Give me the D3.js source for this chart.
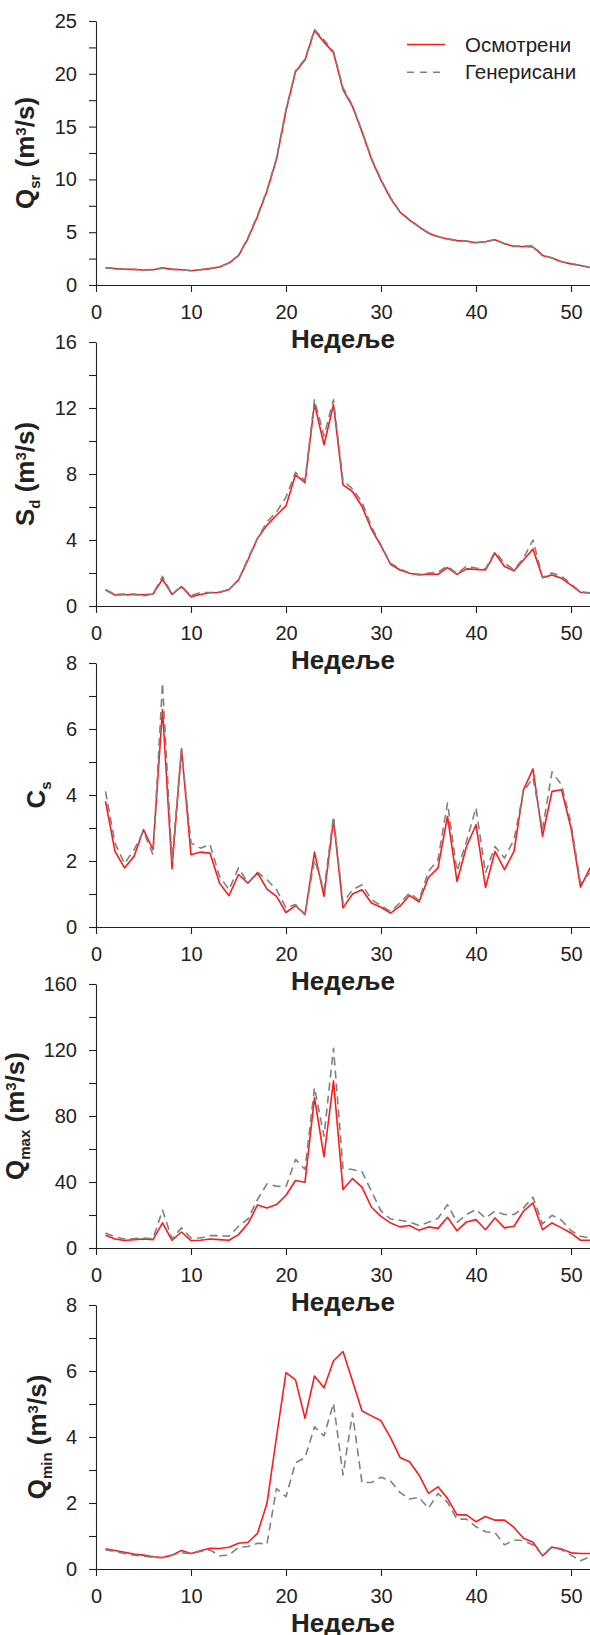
<!DOCTYPE html>
<html><head><meta charset="utf-8">
<script src="https://cdn.jsdelivr.net/npm/d3@7"></script>
<style>
body{margin:0;background:#fff}
svg{display:block}
text{font-family:"Liberation Sans",Arial,Helvetica,sans-serif}
</style>
</head><body>
<svg id="c" width="590" height="1635"></svg>
<script>
const weeks = [1,2,3,4,5,6,7,8,9,10,11,12,13,14,15,16,17,18,19,20,21,22,23,24,25,26,27,28,29,30,31,32,33,34,35,36,37,38,39,40,41,42,43,44,45,46,47,48,49,50,51,52];
const xTicks = [0,10,20,30,40,50];
const seriesNames = ["Осмотрени","Генерисани"];
const xTitle = "Недеље";

const qsrObs = [1.64,1.55,1.5,1.48,1.42,1.45,1.62,1.48,1.45,1.35,1.45,1.55,1.7,2.08,2.78,4.4,6.5,8.9,11.9,16.5,20.2,21.3,24.1,23.0,22.0,18.5,16.9,14.5,11.9,9.9,8.2,6.9,6.15,5.5,4.9,4.57,4.35,4.2,4.15,4.0,4.1,4.28,3.9,3.65,3.65,3.6,2.8,2.55,2.2,2.0,1.85,1.65];
const qsrGen = [1.66,1.56,1.5,1.47,1.43,1.46,1.6,1.5,1.45,1.37,1.46,1.56,1.72,2.1,2.8,4.5,6.6,9.0,12.0,16.6,20.3,21.4,24.2,23.2,22.1,18.7,17.0,14.6,12.0,10.0,8.3,6.95,6.2,5.55,4.95,4.6,4.38,4.22,4.17,4.02,4.12,4.3,3.92,3.68,3.68,3.72,2.82,2.57,2.22,2.02,1.86,1.66];

const sdObs = [0.97,0.67,0.68,0.7,0.68,0.73,1.62,0.71,1.17,0.57,0.7,0.8,0.82,1.0,1.58,2.8,4.1,4.9,5.5,6.07,7.95,7.48,12.26,9.77,12.2,7.34,6.94,6.03,4.65,3.64,2.53,2.18,1.98,1.88,1.94,1.92,2.33,1.92,2.25,2.22,2.18,3.2,2.39,2.14,2.79,3.46,1.72,1.88,1.68,1.27,0.83,0.77];
const sdGen = [1.0,0.7,0.72,0.72,0.62,0.72,1.8,0.7,1.2,0.62,0.82,0.82,0.85,1.0,1.55,2.9,4.1,5.1,5.7,6.6,8.1,7.6,12.5,10.3,12.5,7.6,7.1,6.3,4.8,3.7,2.6,2.25,2.0,1.92,2.0,2.05,2.42,1.95,2.42,2.3,2.25,3.3,2.6,2.2,2.9,4.0,1.75,2.0,1.8,1.35,0.85,0.8];

const csObs = [3.81,2.29,1.79,2.14,2.95,2.34,6.59,1.77,5.4,2.19,2.27,2.24,1.33,0.95,1.59,1.33,1.64,1.15,0.93,0.44,0.65,0.37,2.27,0.93,3.25,0.58,1.0,1.13,0.73,0.6,0.42,0.63,0.96,0.76,1.5,1.79,3.35,1.38,2.44,3.1,1.2,2.29,1.74,2.29,4.16,4.79,2.75,4.11,4.16,3.0,1.21,1.79];
const csGen = [4.11,2.55,1.92,2.34,2.9,2.19,7.39,2.0,5.37,2.55,2.39,2.5,1.54,1.13,1.79,1.33,1.66,1.43,1.13,0.58,0.68,0.39,2.04,1.13,3.35,0.73,1.13,1.28,0.83,0.65,0.47,0.73,1.03,0.81,1.69,2.04,3.76,1.69,2.6,3.61,1.64,2.44,2.09,2.65,4.11,4.52,2.95,4.7,4.31,3.15,1.33,1.64];

const qmaxObs = [7.7,5.5,4.5,5.1,5.5,5.1,15.2,4.7,9.7,4.5,4.7,5.5,5.1,4.7,8.1,14.8,26.1,24.3,26.3,32,40.9,39.9,91.1,55.3,101.3,35.4,42.1,36.9,24.7,19.2,15.2,12.8,13.6,10.7,12.8,11.9,18.6,10.5,15.8,17.2,11.1,18.2,12.2,13.2,22.3,27.3,11.1,15.2,12.2,9.1,4.7,4.7];
const qmaxGen = [9.1,6.7,5.5,5.7,6.1,5.7,22.9,5.5,12.2,6.1,6.1,7.5,7.5,7.1,13.2,17.6,29.4,38.9,37.5,37.1,53.7,47.6,97.2,67.8,121.1,48.2,47.6,46.2,34.4,22.3,17.6,16.8,15.8,13.6,15.6,18.0,26.3,15.6,20.3,23.3,18.2,22.3,20.3,20.3,24.3,30.8,14.6,19.8,16.8,10.5,7.1,6.1];

const qminObs = [0.61,0.56,0.51,0.45,0.42,0.37,0.35,0.42,0.56,0.47,0.55,0.63,0.62,0.66,0.78,0.81,1.08,1.99,4.0,5.95,5.73,4.57,5.85,5.49,6.31,6.59,5.7,4.79,4.64,4.49,3.98,3.38,3.25,2.85,2.29,2.49,2.14,1.64,1.64,1.43,1.59,1.48,1.48,1.26,0.93,0.81,0.4,0.66,0.61,0.49,0.47,0.47];
const qminGen = [0.58,0.53,0.47,0.42,0.39,0.35,0.34,0.42,0.49,0.47,0.53,0.58,0.4,0.42,0.66,0.68,0.78,0.76,2.44,2.19,3.22,3.37,4.31,4.03,5.02,2.85,4.72,2.62,2.62,2.78,2.67,2.32,2.12,2.17,1.84,2.29,2.02,1.51,1.51,1.28,1.13,1.1,0.73,0.88,0.86,0.73,0.42,0.68,0.58,0.42,0.25,0.37];

const yTicks1 = [0,2.5,5,7.5,10,12.5,15,17.5,20,22.5,25];
const yLabels1 = [0,5,10,15,20,25];
const yTicks2 = [0,2,4,6,8,10,12,14,16];
const yLabels2 = [0,4,8,12,16];
const yTicks3 = [0,1,2,3,4,5,6,7,8];
const yLabels3 = [0,2,4,6,8];
const yTicks4 = [0,20,40,60,80,100,120,140,160];
const yLabels4 = [0,40,80,120,160];
const yTicks5 = [0,1,2,3,4,5,6,7,8];
const yLabels5 = [0,2,4,6,8];

const panels = [
  {main:"Q", sub:"sr", unit:true, ymax:25, ticks:yTicks1, labels:yLabels1, obs:qsrObs, gen:qsrGen, lx:34, legend:true},
  {main:"S", sub:"d", unit:true, ymax:16, ticks:yTicks2, labels:yLabels2, obs:sdObs, gen:sdGen, lx:34},
  {main:"C", sub:"s", unit:false, ymax:8, ticks:yTicks3, labels:yLabels3, obs:csObs, gen:csGen, lx:45},
  {main:"Q", sub:"max", unit:true, ymax:160, ticks:yTicks4, labels:yLabels4, obs:qmaxObs, gen:qmaxGen, lx:24},
  {main:"Q", sub:"min", unit:true, ymax:8, ticks:yTicks5, labels:yLabels5, obs:qminObs, gen:qminGen, lx:46}
];

const svg = d3.select("#c");
const left = 96, right = 590, plotH = 264, firstTop = 21, step = 321;
const RED = "#ff1a1a", GRAY = "#808080", INK = "#222";

const x = d3.scaleLinear().domain([0,52]).range([left,right]);

panels.forEach((p,i) => {
  const top = firstTop + i*step, bottom = top + plotH;
  const y = d3.scaleLinear().domain([0,p.ymax]).range([bottom,top]);
  const g = svg.append("g");

  const yAx = d3.axisLeft(y).tickValues(p.ticks)
    .tickFormat(v => p.labels.includes(v) ? String(v) : "")
    .tickSize(7).tickSizeOuter(0).tickPadding(12);
  const ya = g.append("g").attr("transform",`translate(${left},0)`).call(yAx);
  const xAx = d3.axisBottom(x).tickValues(xTicks).tickSize(7).tickSizeOuter(0).tickPadding(13);
  const xa = g.append("g").attr("transform",`translate(0,${bottom})`).call(xAx);
  [ya,xa].forEach(a => {
    a.selectAll("path,line").attr("stroke",INK).attr("stroke-width",1.1);
    a.selectAll("text").attr("fill",INK).style("font-size","20px").style("font-family",'"Liberation Sans",Arial,sans-serif');
  });

  const line = d3.line().x((d,k)=>x(weeks[k])).y(d=>y(d));
  g.append("path").datum(p.obs).attr("d",line).attr("fill","none")
    .attr("stroke",RED).attr("stroke-width",1.6).attr("stroke-linejoin","round");
  g.append("path").datum(p.gen).attr("d",line).attr("fill","none")
    .attr("stroke",GRAY).attr("stroke-width",1.6).attr("stroke-dasharray","8,5").attr("stroke-linejoin","round");

  // x title
  g.append("text").attr("x",(left+right)/2).attr("y",bottom+63)
    .attr("text-anchor","middle").attr("fill",INK)
    .style("font-size","26px").style("font-weight","bold").text(xTitle);

  // y title
  const cy = (top+bottom)/2;
  const t = g.append("text").attr("transform",`translate(${p.lx},${cy}) rotate(-90)`)
    .attr("text-anchor","middle").attr("fill",INK)
    .style("font-size","26px").style("font-weight","bold");
  t.append("tspan").text(p.main);
  t.append("tspan").attr("dy",5.5).style("font-size","15px").text(p.sub);
  if (p.unit) {
    t.append("tspan").attr("dy",-5.5).text(" (m");
    t.append("tspan").attr("dy",-8.5).style("font-size","15px").text("3");
    t.append("tspan").attr("dy",8.5).text("/s)");
  }

  if (p.legend) {
    const lg = g.append("g");
    const rows = [{name:seriesNames[0], c:RED, dash:null, yy:44.5},{name:seriesNames[1], c:GRAY, dash:"7,6", yy:72.3}];
    rows.forEach(r => {
      lg.append("line").attr("x1",407).attr("x2",445).attr("y1",r.yy).attr("y2",r.yy)
        .attr("stroke",r.c).attr("stroke-width",1.6).attr("stroke-dasharray",r.dash);
      lg.append("text").attr("x",465).attr("y",r.yy).attr("dy","0.35em").attr("fill",INK)
        .style("font-size","20.5px").text(r.name);
    });
  }
});
</script>
</body></html>
